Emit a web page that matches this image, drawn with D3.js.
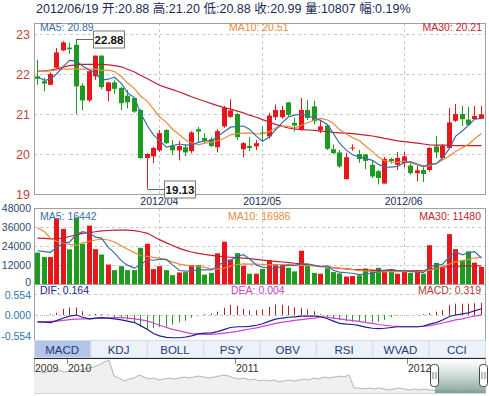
<!DOCTYPE html>
<html>
<head>
<meta charset="utf-8">
<script src="https://cdn.jsdelivr.net/npm/d3@7"></script>
<style>
  body { margin: 0; background: #fff; }
  svg { display: block; font-family: "Liberation Sans", Arial, "Noto Sans CJK SC", sans-serif; }
</style>
</head>
<body>
<svg id="chart" width="489" height="396"></svg>
<script>
// daily candles
const opens = [21.94,21.82,21.73,22.16,22.59,22.66,22.73,21.71,21.34,21.94,
  22.46,21.57,21.79,21.65,21.46,21.40,21.10,19.90,19.94,20.09,
  20.60,20.20,20.09,20.17,20.07,20.62,20.40,20.37,20.17,20.69,
  20.93,21.00,20.12,20.20,20.19,20.54,20.44,20.92,20.92,21.29,
  20.78,20.60,21.10,21.19,20.59,20.71,20.12,20.04,19.37,20.14,
  20.00,19.99,19.73,19.57,19.26,19.88,19.73,19.77,19.71,19.52,
  19.60,19.60,20.19,19.90,20.15,20.83,21.00,20.86,20.87,20.88];
const highs = [22.36,21.90,22.04,22.65,22.82,22.78,22.88,21.77,22.10,22.46,
  22.46,21.80,21.84,21.68,21.60,21.42,21.12,20.02,20.18,20.60,
  20.62,20.35,20.33,20.25,20.57,20.68,20.52,20.42,20.62,21.20,
  21.37,21.03,20.30,20.42,20.35,20.68,21.03,21.24,21.20,21.30,
  20.90,21.40,21.35,21.33,20.85,20.75,20.24,20.10,20.03,20.24,
  20.10,20.00,19.85,19.60,19.93,19.90,20.05,20.05,19.78,19.70,
  19.72,20.17,20.45,20.25,21.15,21.25,21.20,21.18,21.20,21.20];
const lows = [21.73,21.57,21.72,22.15,22.57,22.50,21.00,21.10,21.30,21.85,
  21.62,21.32,21.50,21.10,21.14,21.03,19.88,19.13,19.77,20.05,
  20.25,19.97,19.84,19.95,20.02,20.30,20.25,20.17,20.04,20.66,
  20.90,20.35,19.92,20.07,20.10,20.30,20.38,20.85,20.88,20.94,
  20.56,20.58,20.85,20.74,20.52,20.10,20.00,19.65,19.37,20.08,
  19.78,19.62,19.40,19.24,19.26,19.76,19.60,19.67,19.48,19.32,
  19.30,19.56,19.90,19.86,20.12,20.80,20.70,20.70,20.85,20.88];
const closes = [21.88,21.76,22.00,22.54,22.79,22.62,21.69,21.34,22.07,22.46,
  21.67,21.79,21.63,21.27,21.29,21.06,19.90,20.00,20.15,20.52,
  20.27,20.09,20.20,20.04,20.54,20.56,20.33,20.20,20.57,21.15,
  21.09,20.42,20.27,20.15,20.27,20.51,20.96,21.10,21.10,20.98,
  20.71,21.10,20.90,20.82,20.69,20.13,20.02,19.69,19.92,20.16,
  19.87,19.83,19.44,19.40,19.88,19.82,19.90,19.94,19.52,19.59,
  19.50,20.15,20.04,20.20,20.79,21.00,20.87,20.73,20.95,20.99];
const volumes = [19800,17000,17000,41500,34800,21900,42000,25400,36900,22000,
  18600,12300,8750,11250,8750,8750,22900,25400,9400,11250,
  8750,5600,7300,7500,12000,12000,5900,7000,19400,26700,
  15500,19500,11500,6500,6500,9500,15000,12500,12000,10300,
  8000,21000,12500,7000,6500,10000,7500,6700,4700,5000,
  5500,9800,8800,10200,8500,8500,6500,8500,7000,7500,
  6500,24500,13300,10300,31500,22000,15000,20600,13500,10807];

// moving average lines as drawn
const ma5 = [21.93,21.84,21.87,22.00,22.19,22.34,22.33,22.20,22.10,22.04,
  21.85,21.87,21.92,21.76,21.53,21.41,21.03,20.70,20.48,20.33,
  20.17,20.21,20.25,20.22,20.23,20.29,20.33,20.33,20.44,20.56,
  20.67,20.69,20.70,20.62,20.44,20.32,20.43,20.60,20.79,20.93,
  20.97,21.00,20.96,20.90,20.84,20.73,20.51,20.27,20.09,19.98,
  19.93,19.89,19.84,19.74,19.68,19.67,19.69,19.79,19.81,19.75,
  19.69,19.74,19.76,19.90,20.14,20.44,20.58,20.72,20.87,20.89];
const ma10 = [22.07,22.07,22.08,22.10,22.12,22.12,22.12,22.12,22.12,22.12,
  22.09,22.10,22.06,21.93,21.78,21.63,21.45,21.31,21.12,20.93,
  20.79,20.62,20.48,20.35,20.28,20.23,20.27,20.29,20.33,20.40,
  20.48,20.51,20.52,20.53,20.50,20.50,20.56,20.65,20.70,20.69,
  20.65,20.72,20.78,20.85,20.89,20.85,20.76,20.61,20.50,20.41,
  20.33,20.20,20.06,19.92,19.83,19.80,19.79,19.82,19.78,19.72,
  19.68,19.71,19.77,19.85,19.95,20.06,20.16,20.24,20.38,20.51];
const ma30 = [22.07,22.08,22.10,22.13,22.17,22.21,22.23,22.24,22.24,22.24,
  22.24,22.23,22.21,22.18,22.12,22.05,21.97,21.88,21.80,21.72,
  21.66,21.61,21.55,21.49,21.43,21.37,21.32,21.26,21.21,21.16,
  21.12,21.07,21.03,20.97,20.92,20.86,20.80,20.74,20.69,20.65,
  20.63,20.61,20.60,20.59,20.57,20.56,20.54,20.53,20.52,20.51,
  20.49,20.47,20.45,20.42,20.39,20.36,20.33,20.31,20.29,20.27,
  20.25,20.23,20.22,20.22,20.22,20.21,20.21,20.21,20.21,20.21];
const volMa5 = [21000,20500,20000,23000,26000,26400,31400,33100,32200,29600,
  29000,23000,19700,14600,11900,10000,12100,15400,15000,15500,
  15500,12100,8500,8100,8200,8900,8900,8900,11300,14200,
  14900,17600,18500,15900,11900,10700,9800,10000,11100,11900,
  11600,12800,12800,11800,11000,11400,8700,7500,7100,6800,
  5900,6300,6800,7900,8600,9200,8500,8400,7800,7600,
  7200,10800,11800,12400,17200,20300,18400,19900,20500,16442];
const volMa10 = [35500,33000,29000,27000,26000,25000,24500,26000,27000,27800,
  28300,27800,26500,24000,22000,19800,18000,17500,16800,16300,
  15200,13800,12600,11900,11400,11200,10500,9600,9400,10100,
  11300,12300,12700,12600,12500,12300,12100,12100,12300,12300,
  12100,11800,11600,11400,11100,10800,10400,10000,9500,9000,
  8500,8200,7900,7700,7700,7800,7800,7800,7900,8000,
  8100,8800,9800,11200,12600,14000,14800,15600,16400,16986];
const volMa30 = [29000,28800,28500,28500,29000,30000,31000,32000,32500,33000,
  33500,33800,34000,34000,34000,33700,33000,32000,30000,28000,
  26000,24300,22500,21200,20200,19300,18700,18100,17600,17200,
  16900,16600,16300,16000,15500,15100,14700,14300,13900,13500,
  13100,12700,12100,11600,11100,10700,10300,9900,9600,9300,
  9100,8900,8750,8650,8550,8450,8400,8300,8300,8400,
  8500,9300,10000,10600,11000,11200,11300,11400,11450,11480];

// MACD panel
const dif = [-0.18,-0.19,-0.20,-0.15,-0.08,-0.03,0.00,-0.06,-0.10,-0.08,
  -0.07,-0.08,-0.10,-0.13,-0.16,-0.20,-0.28,-0.38,-0.49,-0.55,
  -0.59,-0.60,-0.60,-0.58,-0.55,-0.50,-0.48,-0.47,-0.44,-0.38,
  -0.33,-0.31,-0.31,-0.30,-0.27,-0.23,-0.16,-0.11,-0.08,-0.06,
  -0.05,-0.03,-0.03,-0.03,-0.04,-0.10,-0.16,-0.22,-0.24,-0.25,
  -0.28,-0.32,-0.35,-0.36,-0.35,-0.33,-0.31,-0.31,-0.31,-0.31,
  -0.29,-0.24,-0.20,-0.13,-0.04,0.00,0.03,0.06,0.11,0.164];
const dea = [-0.18,-0.18,-0.17,-0.16,-0.14,-0.12,-0.11,-0.10,-0.10,-0.09,
  -0.08,-0.08,-0.07,-0.07,-0.08,-0.10,-0.12,-0.16,-0.21,-0.27,
  -0.33,-0.38,-0.42,-0.46,-0.49,-0.50,-0.51,-0.51,-0.50,-0.48,
  -0.46,-0.43,-0.40,-0.37,-0.34,-0.30,-0.26,-0.22,-0.19,-0.17,
  -0.14,-0.12,-0.10,-0.08,-0.05,-0.06,-0.08,-0.10,-0.13,-0.15,
  -0.17,-0.20,-0.22,-0.25,-0.27,-0.29,-0.30,-0.31,-0.31,-0.31,
  -0.30,-0.28,-0.25,-0.21,-0.17,-0.13,-0.10,-0.06,-0.03,0.004];
const macd = [0.01,-0.01,0.02,0.06,0.16,0.20,0.20,0.10,0.02,0.03,
  0.02,0.01,-0.05,-0.08,-0.12,-0.20,-0.30,-0.38,-0.35,-0.32,
  -0.31,-0.26,-0.20,-0.15,-0.07,-0.01,0.02,0.04,0.09,0.19,
  0.27,0.24,0.16,0.12,0.13,0.15,0.21,0.28,0.27,0.24,
  0.20,0.18,0.15,0.10,0.02,-0.06,-0.11,-0.14,-0.17,-0.18,
  -0.18,-0.20,-0.20,-0.18,-0.13,-0.06,-0.02,-0.01,-0.01,0.01,
  0.02,0.05,0.09,0.13,0.26,0.30,0.30,0.30,0.31,0.319];

const lastDate = "2012/06/19";
const priceTicks = [19, 20, 21, 22, 23];
const volTicks = [0, 12000, 24000, 36000, 48000];
const macdTicks = [-0.554, 0, 0.554];
const monthTicks = [
  { label: "2012/04", index: 19 },
  { label: "2012/05", index: 35 },
  { label: "2012/06", index: 57 }
];
const tabs = ["MACD", "KDJ", "BOLL", "PSY", "OBV", "RSI", "WVAD", "CCI"];

// long history in the navigator strip
const navValues = [28.8,29.3,28.3,29.3,28.8,29.8,28.8,29.3,28.8,29.8,
  30.3,30.9,31.4,32.4,33.9,35.0,26.7,25.7,24.2,25.2,
  25.7,27.3,26.2,25.2,25.7,24.7,25.2,25.7,25.2,25.7,
  26.2,25.7,26.2,26.7,26.2,25.7,26.2,26.7,27.3,26.7,
  25.7,25.2,25.7,24.7,25.2,24.2,24.7,24.2,24.7,23.7,
  24.2,24.7,24.2,24.7,25.2,24.7,25.7,25.2,26.2,25.7,
  26.2,26.7,26.2,27.3,20.6,20.6,20.1,20.6,20.1,20.6,
  20.1,19.5,20.1,20.6,20.1,19.5,20.1,19.5,20.1,19.5,
  19.5,19.0,19.0,18.5,19.0,18.5,18.5,19.0,19.0,19.0,19.0];
const navYears = [
  { label: "2009", pos: 0 },
  { label: "2010", pos: 6.6 },
  { label: "2011", pos: 40.2 },
  { label: "2012", pos: 74.6 }
];
const navSelection = [80.2, 90];

const RED = "#e8161b", GREEN = "#1e9a1e";
const C_MA5 = "#3a6ea8", C_MA10 = "#e98b3a", C_MA30 = "#c21e32";
const GRID = "#c8c8c8";
const L = 34, R = 485;

const svg = d3.select("#chart");
const n = closes.length;

const x = d3.scaleBand()
  .domain(d3.range(n))
  .range([L, 484])
  .paddingInner(0.3)
  .paddingOuter(0.15);
const cx = i => Math.round(x(i) + x.bandwidth() / 2) + 0.5;
const isUp = i => closes[i] >= opens[i];
const colorOf = i => isUp(i) ? RED : GREEN;

// ---------- title ----------
const last = n - 1;
const pct = (closes[last] - closes[last - 1]) / closes[last - 1] * 100;
svg.append("text")
  .attr("x", 36).attr("y", 13)
  .attr("fill", "#1a2a55")
  .style("font-size", "12.5px")
  .text(`${lastDate} 开:${opens[last].toFixed(2)} 高:${highs[last].toFixed(2)} 低:${lows[last].toFixed(2)} 收:${closes[last].toFixed(2)} 量:${volumes[last]} 幅:${pct.toFixed(2)}%`);

// ---------- price panel ----------
const yP = d3.scaleLinear().domain([19, 23]).range([194, 34]);

function panelFrame(top, bottom) {
  svg.append("rect")
    .attr("x", L + 0.5).attr("y", top + 0.5)
    .attr("width", R - L).attr("height", bottom - top)
    .attr("fill", "none").attr("stroke", "#a0a0a0");
}

function hGrid(values, scale) {
  svg.append("g").selectAll("line").data(values).join("line")
    .attr("x1", L).attr("x2", R)
    .attr("y1", d => Math.round(scale(d)) + 0.5)
    .attr("y2", d => Math.round(scale(d)) + 0.5)
    .attr("stroke", GRID).attr("stroke-dasharray", "3,3");
}

function vGrid(top, bottom) {
  svg.append("g").selectAll("line").data(monthTicks).join("line")
    .attr("x1", d => cx(d.index)).attr("x2", d => cx(d.index))
    .attr("y1", top).attr("y2", bottom)
    .attr("stroke", GRID).attr("stroke-dasharray", "3,3");
}

hGrid([20, 21, 22, 23], yP);
vGrid(23, 194);

const candles = svg.append("g").selectAll("g").data(d3.range(n)).join("g");
candles.append("line")
  .attr("x1", cx).attr("x2", cx)
  .attr("y1", i => yP(highs[i]))
  .attr("y2", i => yP(lows[i]))
  .attr("stroke", colorOf);
candles.append("rect")
  .attr("x", i => cx(i) - 2.5)
  .attr("width", 5)
  .attr("y", i => yP(Math.max(opens[i], closes[i])))
  .attr("height", i => Math.max(1, Math.abs(yP(opens[i]) - yP(closes[i]))))
  .attr("fill", colorOf);

function drawLine(values, scale, color) {
  svg.append("path")
    .datum(values)
    .attr("fill", "none")
    .attr("stroke", color)
    .attr("stroke-width", 1.2)
    .attr("d", d3.line().x((d, i) => cx(i)).y(d => scale(d)));
}

drawLine(ma30, yP, C_MA30);
drawLine(ma10, yP, C_MA10);
drawLine(ma5, yP, C_MA5);

// high / low markers
function marker(i, value) {
  const px = cx(i), py = Math.round(yP(value)) + 0.5;
  const bx = Math.round(px + 16) + 0.5;
  svg.append("line")
    .attr("x1", px).attr("x2", bx).attr("y1", py).attr("y2", py)
    .attr("stroke", "#666");
  svg.append("rect")
    .attr("x", bx).attr("y", py - 8.5)
    .attr("width", 31).attr("height", 17)
    .attr("fill", "#fff").attr("stroke", "#777");
  svg.append("text")
    .attr("x", bx + 15.5).attr("y", py + 4)
    .attr("text-anchor", "middle")
    .attr("fill", "#111")
    .style("font-size", "11.5px").style("font-weight", "bold")
    .text(value.toFixed(2));
}

panelFrame(23, 194);

const priceAxis = svg.append("g")
  .attr("transform", `translate(${L},0)`)
  .call(d3.axisLeft(yP).tickValues(priceTicks).tickSize(0).tickPadding(4).tickFormat(d3.format("d")));
priceAxis.select(".domain").remove();
priceAxis.selectAll("text").attr("fill", "#c0433c").style("font-size", "12.5px").style("font-family", "Liberation Sans, Arial");

const dateAxis = svg.append("g")
  .attr("transform", "translate(0,194)")
  .call(d3.axisBottom(x)
    .tickValues(monthTicks.map(d => d.index))
    .tickFormat(i => monthTicks.find(d => d.index === i).label)
    .tickSize(0).tickPadding(4));
dateAxis.select(".domain").remove();
dateAxis.selectAll("text").attr("fill", "#1a2a55").style("font-size", "10.5px").style("font-family", "Liberation Sans, Arial");

marker(d3.maxIndex(highs), d3.max(highs));
marker(d3.minIndex(lows), d3.min(lows));

function legend(y, items) {
  items.forEach(it => {
    svg.append("text")
      .attr("x", it.x).attr("y", y)
      .attr("text-anchor", it.anchor || "start")
      .attr("fill", it.color)
      .style("font-size", "10.5px")
      .text(it.text);
  });
}

legend(31, [
  { x: 40, color: C_MA5, text: `MA5: ${ma5[last].toFixed(2)}` },
  { x: 229, color: C_MA10, text: `MA10: ${ma10[last].toFixed(2)}` },
  { x: 482, anchor: "end", color: C_MA30, text: `MA30: ${ma30[last].toFixed(2)}` }
]);

// ---------- volume panel ----------
const yV = d3.scaleLinear().domain([0, 48000]).range([284, 208]);

hGrid([12000, 24000, 36000], yV);
vGrid(208, 284);

svg.append("g").selectAll("rect").data(d3.range(n)).join("rect")
  .attr("x", i => cx(i) - 2.5)
  .attr("width", 5)
  .attr("y", i => yV(volumes[i]))
  .attr("height", i => yV(0) - yV(volumes[i]))
  .attr("fill", colorOf);

drawLine(volMa30, yV, C_MA30);
drawLine(volMa10, yV, C_MA10);
drawLine(volMa5, yV, C_MA5);

panelFrame(208, 284);

const volAxis = svg.append("g")
  .attr("transform", `translate(${L},0)`)
  .call(d3.axisLeft(yV).tickValues(volTicks).tickSize(0).tickPadding(3).tickFormat(d3.format("d")));
volAxis.select(".domain").remove();
volAxis.selectAll("text").attr("fill", "#2f4b6e").style("font-size", "10.5px").style("font-family", "Liberation Sans, Arial");
// keep the zero label clear of the MACD scale below it
volAxis.selectAll("text").filter(d => d === 0).attr("y", -2);

legend(219.5, [
  { x: 40, color: C_MA5, text: `MA5: ${volMa5[last]}` },
  { x: 228, color: C_MA10, text: `MA10: ${volMa10[last]}` },
  { x: 481, anchor: "end", color: C_MA30, text: `MA30: ${volMa30[last]}` }
]);

// ---------- MACD panel ----------
const yM = d3.scaleLinear().domain([-0.554, 0.554]).range([336, 294]);

hGrid([0.554, 0], yM);

svg.append("g").selectAll("line").data(d3.range(n)).join("line")
  .attr("x1", cx).attr("x2", cx)
  .attr("y1", yM(0))
  .attr("y2", i => yM(macd[i]))
  .attr("stroke", i => macd[i] >= 0 ? "#a8232a" : "#2a9a2a");

drawLine(dea, yM, "#d23fd2");
drawLine(dif, yM, "#1f1f8c");

panelFrame(284, 340);

const macdAxis = svg.append("g")
  .attr("transform", `translate(${L},0)`)
  .call(d3.axisLeft(yM).tickValues(macdTicks).tickSize(0).tickPadding(3).tickFormat(d => d.toFixed(3)));
macdAxis.select(".domain").remove();
macdAxis.selectAll("text").attr("fill", "#2a78ac").style("font-size", "10.5px").style("font-family", "Liberation Sans, Arial");
macdAxis.selectAll("text").filter(d => d > 0).attr("y", 1.5);

legend(294, [
  { x: 40, color: "#20208a", text: `DIF: ${dif[last].toFixed(3)}` },
  { x: 231, color: "#c83cc8", text: `DEA: ${dea[last].toFixed(3)}` },
  { x: 481, anchor: "end", color: "#b03a3a", text: `MACD: ${macd[last].toFixed(3)}` }
]);

// ---------- indicator tabs ----------
const tabX = d3.scaleBand().domain(tabs).range([L, R]);
const tab = svg.append("g").selectAll("g").data(tabs).join("g");
tab.append("rect")
  .attr("x", d => tabX(d) + 0.5).attr("y", 340.5)
  .attr("width", tabX.bandwidth()).attr("height", 17)
  .attr("fill", (d, i) => i === 0 ? "#b4c6e7" : "#edf1fa")
  .attr("stroke", "#d3dbec");
tab.append("text")
  .attr("x", d => tabX(d) + tabX.bandwidth() / 2)
  .attr("y", 353.5)
  .attr("text-anchor", "middle")
  .attr("fill", "#1d3a78")
  .style("font-size", "11.5px")
  .text(d => d);

// ---------- navigator ----------
const xN = d3.scaleLinear().domain([0, navValues.length - 1]).range([L, R - 1]);
const yN = d3.scaleLinear().domain([18, 36]).range([393, 358]);

svg.append("rect")
  .attr("x", L + 0.5).attr("y", 358.5)
  .attr("width", R - L).attr("height", 34.5)
  .attr("fill", "#fff").attr("stroke", "#b0b0b0");

svg.append("path")
  .datum(navValues)
  .attr("fill", "#f0f0f0")
  .attr("d", d3.area().x((d, i) => xN(i)).y0(393).y1(d => yN(d)));
svg.append("path")
  .datum(navValues)
  .attr("fill", "none")
  .attr("stroke", "#b4b4b4")
  .attr("d", d3.line().x((d, i) => xN(i)).y(d => yN(d)));

const defs = svg.append("defs");
const grad = defs.append("linearGradient").attr("id", "sel").attr("x1", 0).attr("x2", 0).attr("y1", 0).attr("y2", 1);
grad.append("stop").attr("offset", "0%").attr("stop-color", "#ffffff").attr("stop-opacity", 0.6);
grad.append("stop").attr("offset", "100%").attr("stop-color", "#6f958a").attr("stop-opacity", 0.85);

svg.append("rect")
  .attr("x", xN(navSelection[0])).attr("y", 359)
  .attr("width", xN(navSelection[1]) - xN(navSelection[0]) + 1).attr("height", 34)
  .attr("fill", "url(#sel)");

svg.append("line")
  .attr("x1", L).attr("x2", R + 0.5).attr("y1", 358.5).attr("y2", 358.5)
  .attr("stroke", "#222").attr("stroke-width", 1.2);

svg.append("g").selectAll("line").data(navYears.slice(1)).join("line")
  .attr("x1", d => Math.round(xN(d.pos)) + 0.5).attr("x2", d => Math.round(xN(d.pos)) + 0.5)
  .attr("y1", 359).attr("y2", 364)
  .attr("stroke", "#888");
svg.append("g").selectAll("text").data(navYears).join("text")
  .attr("x", d => xN(d.pos) + 1)
  .attr("y", 372)
  .attr("fill", "#333")
  .style("font-size", "10.5px")
  .text(d => d.label);

navSelection.forEach(p => {
  const hx = Math.round(xN(p)) - 4.5;
  svg.append("rect")
    .attr("x", hx).attr("y", 364.5)
    .attr("width", 8).attr("height", 22)
    .attr("rx", 3)
    .attr("fill", "#fff").attr("stroke", "#444");
  [2.5, 5.5].forEach(dx => {
    svg.append("line")
      .attr("x1", hx + dx).attr("x2", hx + dx)
      .attr("y1", 372).attr("y2", 379)
      .attr("stroke", "#777");
  });
});
</script>
</body>
</html>
